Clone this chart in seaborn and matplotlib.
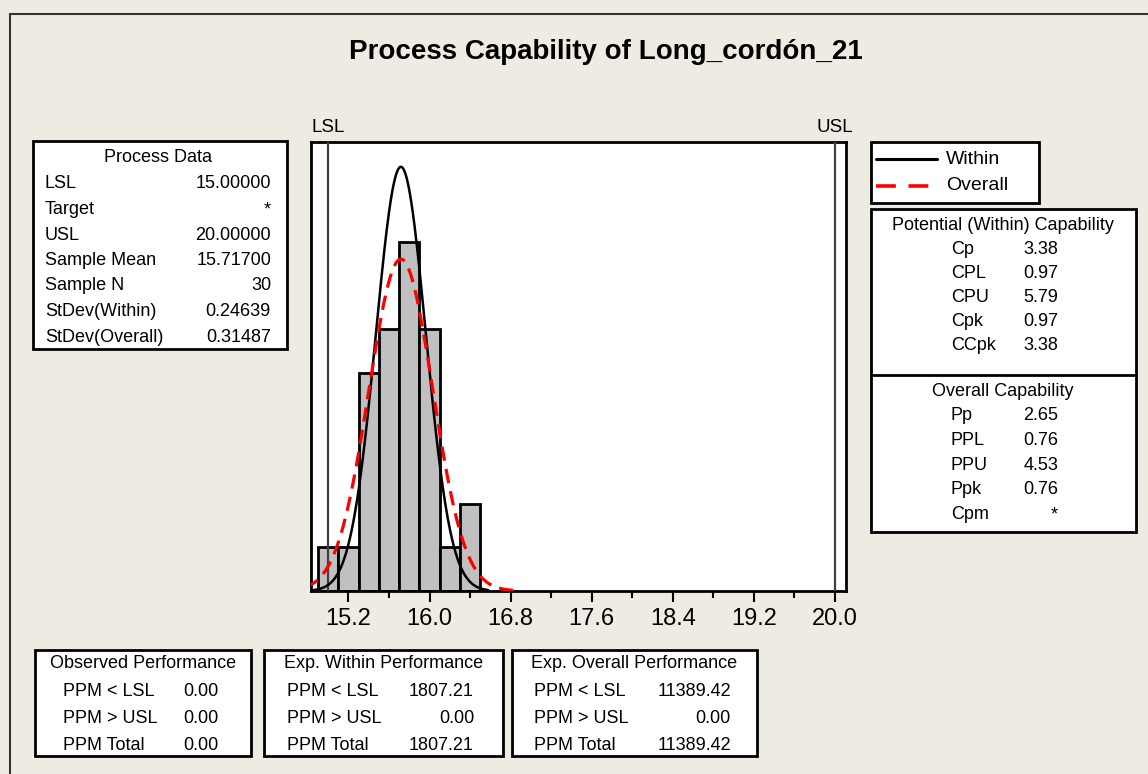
import numpy as np
import pandas as pd
import matplotlib
matplotlib.use("Agg")
import matplotlib.pyplot as plt
import seaborn as sns
from matplotlib.patches import Rectangle
from matplotlib.lines import Line2D

# ---------------- data ----------------
title = "Process Capability of Long_cordón_21"
bin_edges = [14.9, 15.1, 15.3, 15.5, 15.7, 15.9, 16.1, 16.3, 16.5]
bin_counts = [1, 1, 5, 6, 8, 6, 1, 2]
lsl = 15.0
usl = 20.0
sample_mean = 15.717
sample_n = 30
stdev_within = 0.24639
stdev_overall = 0.31487
x_ticks = [15.2, 16.0, 16.8, 17.6, 18.4, 19.2, 20.0]
x_minor = [15.6, 16.4, 17.2, 18.0, 18.8, 19.6]
x_tick_labels = ["15.2", "16.0", "16.8", "17.6", "18.4", "19.2", "20.0"]

process_labels = ["LSL", "Target", "USL", "Sample Mean", "Sample N",
                  "StDev(Within)", "StDev(Overall)"]
process_values = ["15.00000", "*", "20.00000", "15.71700", "30",
                  "0.24639", "0.31487"]
within_labels = ["Cp", "CPL", "CPU", "Cpk", "CCpk"]
within_values = ["3.38", "0.97", "5.79", "0.97", "3.38"]
overall_labels = ["Pp", "PPL", "PPU", "Ppk", "Cpm"]
overall_values = ["2.65", "0.76", "4.53", "0.76", "*"]
perf_titles = ["Observed Performance", "Exp. Within Performance",
               "Exp. Overall Performance"]
perf_labels = ["PPM < LSL", "PPM > USL", "PPM Total"]
perf_observed = ["0.00", "0.00", "0.00"]
perf_within = ["1807.21", "0.00", "1807.21"]
perf_overall = ["11389.42", "0.00", "11389.42"]

# ---------------- style ----------------
sns.set_style("white")
plt.rcParams["font.family"] = ["Liberation Sans", "DejaVu Sans"]
plt.rcParams["text.color"] = "black"
plt.rcParams["xtick.color"] = "black"
plt.rcParams["xtick.labelcolor"] = "black"

W, H = 1148, 774
BG = "#EEEBE2"
fig = plt.figure(figsize=(W / 100, H / 100), dpi=100, facecolor=BG)


def fx(x):
    return x / W


def fy(y):
    return 1 - y / H


def box(x0, y0, x1, y1, lw=2.0):
    fig.add_artist(Rectangle((fx(x0), fy(y1)), (x1 - x0) / W, (y1 - y0) / H,
                             transform=fig.transFigure, facecolor="white",
                             edgecolor="black", linewidth=lw, zorder=2))


def txt(x, y, s, ha="left", size=13, **kw):
    fig.text(fx(x), fy(y), s, ha=ha, va="center", fontsize=size,
             color="black", zorder=5, **kw)


# outer frame (only top/left visible)
fig.add_artist(Rectangle((fx(10), fy(800)), 1200 / W, 786 / H,
                         transform=fig.transFigure, facecolor="none",
                         edgecolor="#333333", linewidth=1.5, zorder=1))

# ---------------- main axes ----------------
ax_l, ax_r, ax_t, ax_b = 311, 846, 141.7, 591
ax = fig.add_axes([fx(ax_l), fy(ax_b), (ax_r - ax_l) / W, (ax_b - ax_t) / H])
ax.set_facecolor("white")

centers = [(a + b) / 2 for a, b in zip(bin_edges[:-1], bin_edges[1:])]
hist_df = pd.DataFrame({"value": centers, "count": bin_counts})
sns.histplot(data=hist_df, x="value", weights="count", bins=bin_edges,
             stat="count", color="#C0C0C0", edgecolor="black",
             linewidth=2.0, alpha=1.0, ax=ax, zorder=2)

bw = bin_edges[1] - bin_edges[0]


def normal_curve(sd, k):
    xs = np.linspace(sample_mean - k * sd, sample_mean + k * sd, 300)
    ys = sample_n * bw * np.exp(-0.5 * ((xs - sample_mean) / sd) ** 2) / (sd * np.sqrt(2 * np.pi))
    return pd.DataFrame({"x": xs, "y": ys})


within_df = normal_curve(stdev_within, 3.5)
overall_df = normal_curve(stdev_overall, 3.7)
sns.lineplot(data=within_df, x="x", y="y", color="black", linewidth=1.8,
             ax=ax, zorder=4)
sns.lineplot(data=overall_df, x="x", y="y", color="#FF0000", linewidth=2.3,
             ax=ax, zorder=5)
ax.lines[-1].set_dashes((4.5, 2.6))

for v in (lsl, usl):
    ax.axvline(v, color="#404040", linewidth=1.6, zorder=3)

ax.set_xlim(14.83, 20.11)
ax.set_ylim(0, 10.29)
ax.set_xticks(x_ticks)
ax.set_xticklabels(x_tick_labels)
ax.set_xticks(x_minor, minor=True)
ax.set_yticks([])
ax.set_xlabel("")
ax.set_ylabel("")
ax.tick_params(axis="x", which="major", direction="out", length=8,
               width=1.5, labelsize=17, pad=4, bottom=True, color="black",
               labelcolor="black")
ax.tick_params(axis="x", which="minor", direction="out", length=5,
               width=1.5, bottom=True, color="black")
for sp in ax.spines.values():
    sp.set_visible(True)
    sp.set_color("black")
    sp.set_linewidth(2.0)

# LSL / USL labels
for v, s in ((lsl, "LSL"), (usl, "USL")):
    ax.text(v, 1.012, s, transform=ax.get_xaxis_transform(), ha="center",
            va="bottom", fontsize=13.5, color="black")

# ---------------- title ----------------
fig.text(fx(606), fy(52), title, ha="center", va="center", fontsize=20,
         fontweight="bold", color="black")

# ---------------- process data box ----------------
box(33, 141, 287, 349)
txt(158, 158, "Process Data", ha="center")
for i, (lab, val) in enumerate(zip(process_labels, process_values)):
    y = 184 + 25.5 * i
    txt(45, y, lab)
    txt(271, y, val, ha="right")

# ---------------- legend box ----------------
box(871, 141.7, 1039, 203)
fig.add_artist(Line2D([fx(876), fx(937)], [fy(159.3), fy(159.3)],
                      transform=fig.transFigure, color="black",
                      linewidth=2.2, zorder=6))
fig.add_artist(Line2D([fx(876), fx(932)], [fy(185.7), fy(185.7)],
                      transform=fig.transFigure, color="#FF0000",
                      linewidth=2.6, dashes=(5.5, 3.5), zorder=6))
txt(946, 159.3, "Within", size=14)
txt(946, 185.7, "Overall", size=14)

# ---------------- capability box ----------------
box(871, 209, 1136, 532)
fig.add_artist(Line2D([fx(871), fx(1136)], [fy(375), fy(375)],
                      transform=fig.transFigure, color="black",
                      linewidth=2.0, zorder=6))
txt(1003, 226, "Potential (Within) Capability", ha="center")
for i, (lab, val) in enumerate(zip(within_labels, within_values)):
    y = 249.5 + 23.9 * i
    txt(951, y, lab)
    txt(1058, y, val, ha="right")
txt(1003, 391, "Overall Capability", ha="center")
for i, (lab, val) in enumerate(zip(overall_labels, overall_values)):
    y = 415.6 + 24.75 * i
    txt(951, y, lab)
    txt(1058, y, val, ha="right")

# ---------------- performance boxes ----------------
perf_boxes = [(35, 251), (264, 503), (512, 757)]
perf_label_x = [63, 287, 534]
perf_value_x = [218, 474, 731]
perf_vals = [perf_observed, perf_within, perf_overall]
for (x0, x1), lx, vx, ttl, vals in zip(perf_boxes, perf_label_x,
                                       perf_value_x, perf_titles, perf_vals):
    box(x0, 650, x1, 756)
    txt((x0 + x1) / 2, 664, ttl, ha="center")
    for j, (lab, val) in enumerate(zip(perf_labels, vals)):
        y = 691 + 27.5 * j
        txt(lx, y, lab)
        txt(vx, y, val, ha="right")

fig.savefig("out.png", dpi=100, facecolor=BG)
